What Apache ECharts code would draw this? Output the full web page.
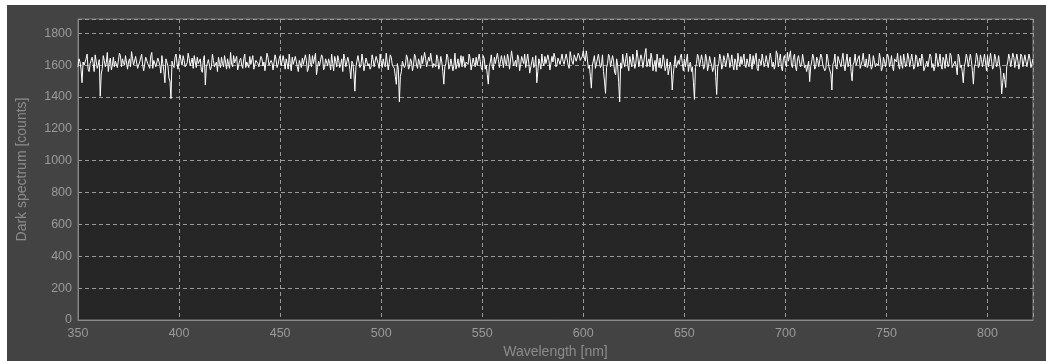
<!DOCTYPE html>
<html>
<head>
<meta charset="utf-8">
<script src="https://cdn.jsdelivr.net/npm/echarts@6/dist/echarts.min.js"></script>
<style>
html,body{margin:0;padding:0;background:#ffffff;}
#chart{position:absolute;left:7px;top:5px;width:1039px;height:356px;}
</style>
</head>
<body>
<div id="chart"></div>
<script>
// Wavelength start (nm) and step between samples in each array
const startWavelength = 350;
const stepNm = 1;
// Dark spectrum counts at whole nm (350..822)
const darkCounts = [
1590,1620,1490,1600,1640,1575,1610,1650,1560,1625,
1600,1405,1580,1630,1615,1560,1645,1600,1590,1620,
1580,1660,1640,1600,1670,1620,1590,1640,1610,1655,
1585,1630,1600,1570,1645,1610,1660,1580,1620,1595,
1640,1550,1610,1490,1630,1520,1390,1600,1650,1610,
1640,1625,1660,1590,1615,1640,1600,1580,1620,1650,
1600,1570,1630,1475,1610,1645,1590,1630,1600,1560,
1615,1650,1590,1620,1640,1580,1605,1660,1610,1570,
1630,1600,1640,1585,1620,1655,1600,1575,1630,1610,
1590,1640,1620,1560,1650,1600,1615,1580,1635,1605,
1660,1590,1620,1640,1575,1610,1650,1600,1625,1560,
1610,1645,1595,1630,1580,1615,1660,1600,1540,1625,
1600,1650,1585,1620,1640,1570,1610,1655,1590,1630,
1605,1560,1640,1600,1620,1515,1610,1437,1590,1650,
1600,1625,1560,1645,1610,1590,1635,1600,1660,1580,
1615,1640,1590,1620,1565,1650,1600,1530,1610,1370,
1560,1630,1600,1645,1590,1620,1600,1650,1580,1615,
1660,1600,1640,1585,1625,1670,1610,1590,1640,1600,
1620,1481,1610,1650,1595,1630,1600,1575,1640,1615,
1590,1660,1620,1605,1640,1580,1615,1650,1600,1625,
1570,1640,1600,1481,1620,1590,1650,1610,1635,1595,
1625,1660,1600,1640,1580,1680,1610,1590,1645,1605,
1630,1670,1590,1620,1545,1650,1600,1490,1640,1575,
1615,1655,1600,1630,1580,1620,1650,1605,1640,1610,
1625,1600,1640,1580,1650,1605,1670,1615,1660,1620,
1690,1625,1640,1600,1456,1600,1580,1640,1620,1600,
1560,1423,1610,1650,1590,1625,1540,1600,1370,1580,
1620,1640,1600,1655,1590,1630,1610,1650,1600,1640,
1580,1705,1620,1590,1640,1600,1560,1620,1645,1600,
1630,1590,1540,1620,1444,1600,1585,1630,1650,1610,
1640,1600,1560,1620,1590,1385,1610,1650,1600,1630,
1590,1640,1600,1620,1560,1650,1416,1610,1640,1600,
1630,1590,1650,1620,1600,1640,1570,1625,1655,1610,
1600,1640,1590,1625,1660,1610,1580,1640,1600,1630,
1615,1650,1595,1640,1620,1600,1670,1630,1590,1640,
1610,1680,1625,1600,1650,1590,1640,1620,1605,1660,
1600,1570,1497,1620,1645,1590,1630,1600,1650,1610,
1580,1640,1600,1444,1620,1590,1655,1610,1640,1600,
1625,1590,1650,1502,1620,1600,1645,1580,1630,1610,
1640,1600,1620,1590,1655,1610,1600,1640,1585,1625,
1600,1650,1615,1590,1640,1620,1600,1660,1580,1630,
1610,1645,1600,1625,1590,1650,1615,1600,1640,1570,
1625,1600,1655,1610,1590,1640,1620,1600,1650,1580,
1630,1610,1660,1600,1625,1540,1650,1600,1490,1620,
1640,1595,1630,1481,1610,1650,1600,1635,1590,1620,
1660,1600,1625,1590,1645,1610,1600,1419,1550,1460,
1620,1640,1600,1650,1590,1630,1610,1655,1600,1625,
1590,1640,1610
];
// Dark spectrum counts at half nm (350.5..822.5)
const darkCountsHalf = [
1640,1575,1620,1595,1670,1560,1630,1610,1665,1580,
1635,1545,1660,1590,1680,1615,1570,1650,1625,1585,
1675,1590,1615,1660,1575,1640,1685,1600,1655,1580,
1620,1670,1565,1650,1610,1580,1680,1630,1590,1645,
1600,1660,1560,1640,1595,1500,1625,1585,1670,1575,
1665,1600,1630,1580,1675,1595,1645,1660,1585,1610,
1640,1555,1660,1590,1635,1570,1670,1590,1620,1650,
1585,1610,1660,1575,1605,1680,1590,1615,1655,1565,
1645,1580,1670,1620,1585,1605,1660,1570,1640,1590,
1655,1595,1565,1675,1600,1630,1570,1665,1585,1640,
1595,1660,1575,1610,1670,1565,1605,1655,1590,1630,
1585,1605,1665,1560,1670,1590,1610,1675,1585,1595,
1665,1570,1640,1595,1610,1670,1565,1625,1660,1585,
1640,1670,1590,1650,1575,1625,1550,1590,1660,1585,
1670,1565,1645,1595,1575,1665,1590,1655,1610,1670,
1585,1605,1675,1570,1665,1600,1580,1480,1575,1530,
1625,1585,1665,1575,1640,1565,1670,1600,1640,1580,
1610,1680,1590,1650,1675,1585,1605,1665,1575,1655,
1560,1590,1670,1575,1640,1565,1675,1605,1585,1660,
1655,1585,1610,1670,1570,1645,1590,1600,1670,1585,
1660,1575,1540,1590,1665,1570,1610,1675,1585,1660,
1585,1615,1670,1575,1690,1595,1630,1665,1565,1655,
1610,1585,1670,1550,1620,1585,1660,1560,1610,1670,
1595,1610,1665,1570,1655,1675,1590,1645,1605,1670,
1605,1670,1600,1685,1620,1665,1625,1675,1630,1655,
1645,1690,1580,1530,1600,1660,1570,1670,1585,1665,
1500,1585,1670,1590,1660,1555,1640,1490,1615,1670,
1590,1675,1565,1620,1670,1580,1695,1590,1665,1585,
1670,1590,1640,1675,1565,1630,1670,1585,1580,1665,
1565,1640,1575,1590,1540,1660,1590,1605,1670,1565,
1590,1670,1605,1560,1490,1585,1670,1590,1665,1575,
1670,1565,1655,1600,1585,1530,1590,1670,1575,1660,
1590,1675,1585,1665,1570,1620,1675,1590,1605,1670,
1585,1610,1670,1575,1605,1675,1565,1625,1670,1590,
1660,1585,1675,1590,1575,1690,1590,1670,1565,1660,
1590,1625,1690,1585,1670,1565,1660,1590,1670,1585,
1560,1625,1590,1670,1575,1650,1590,1670,1600,1565,
1670,1590,1545,1605,1670,1575,1660,1590,1675,1565,
1670,1585,1560,1605,1670,1590,1660,1570,1675,1590,
1585,1670,1575,1660,1590,1605,1675,1565,1650,1590,
1670,1590,1660,1565,1645,1675,1575,1605,1670,1590,
1675,1590,1670,1575,1665,1590,1645,1670,1565,1605,
1590,1670,1585,1565,1675,1590,1670,1575,1630,1670,
1590,1675,1585,1605,1590,1670,1585,1560,1590,1670,
1590,1670,1565,1590,1675,1585,1665,1590,1670,1565,
1590,1675,1575,1670,1590,1660,1565,1490,1510,1590,
1670,1590,1675,1585,1670,1575,1670,1590,1665,1590,
1670,1585,1640
];
const xMin = 350, xMax = 822.5, xStep = 50;
const yMin = 0, yMax = 1890, yStep = 200;
const xTitle = 'Wavelength [nm]';
const yTitle = 'Dark spectrum [counts]';

const seriesData = [];
for (let i = 0; i < darkCounts.length; i++) {
  seriesData.push([startWavelength + i * stepNm, darkCounts[i]]);
  if (i < darkCountsHalf.length) seriesData.push([startWavelength + i * stepNm + stepNm / 2, darkCountsHalf[i]]);
}

const chart = echarts.init(document.getElementById('chart'), null, {renderer: 'canvas'});
const fontFam = 'Liberation Sans, Arial, sans-serif';
const labelFont = {color: '#9a9a9a', fontSize: 12.5, fontFamily: fontFam, formatter: v => String(v)};
const split = {show: true, lineStyle: {color: '#9a9a9a', width: 1, type: [4, 3]}};
chart.setOption({
  animation: false,
  backgroundColor: '#434343',
  grid: {left: 71, right: 13, top: 14, bottom: 41, outerBoundsMode: 'none', containLabel: false,
         show: true, backgroundColor: '#262626', borderColor: '#7c7c7c', borderWidth: 1},
  xAxis: {
    type: 'value', min: xMin, max: xMax, interval: xStep,
    name: xTitle, nameLocation: 'middle', nameGap: 24,
    nameTextStyle: {color: '#8c8c8c', fontSize: 14, fontFamily: fontFam},
    axisLine: {show: true, onZero: false, lineStyle: {color: '#8a8a8a'}},
    axisTick: {show: false},
    axisLabel: Object.assign({margin: 7, showMaxLabel: false}, labelFont),
    splitLine: split
  },
  yAxis: {
    type: 'value', min: yMin, max: yMax, interval: yStep,
    name: yTitle, nameLocation: 'middle', nameGap: 49,
    nameTextStyle: {color: '#8c8c8c', fontSize: 14, fontFamily: fontFam},
    axisLine: {show: true, lineStyle: {color: '#8a8a8a'}},
    axisTick: {show: false},
    axisLabel: Object.assign({margin: 6, showMaxLabel: false}, labelFont),
    splitLine: split
  },
  series: [{
    type: 'line', data: seriesData, showSymbol: false, symbol: 'none',
    lineStyle: {color: '#ffffff', width: 1}, silent: true
  }]
});
</script>
</body>
</html>
